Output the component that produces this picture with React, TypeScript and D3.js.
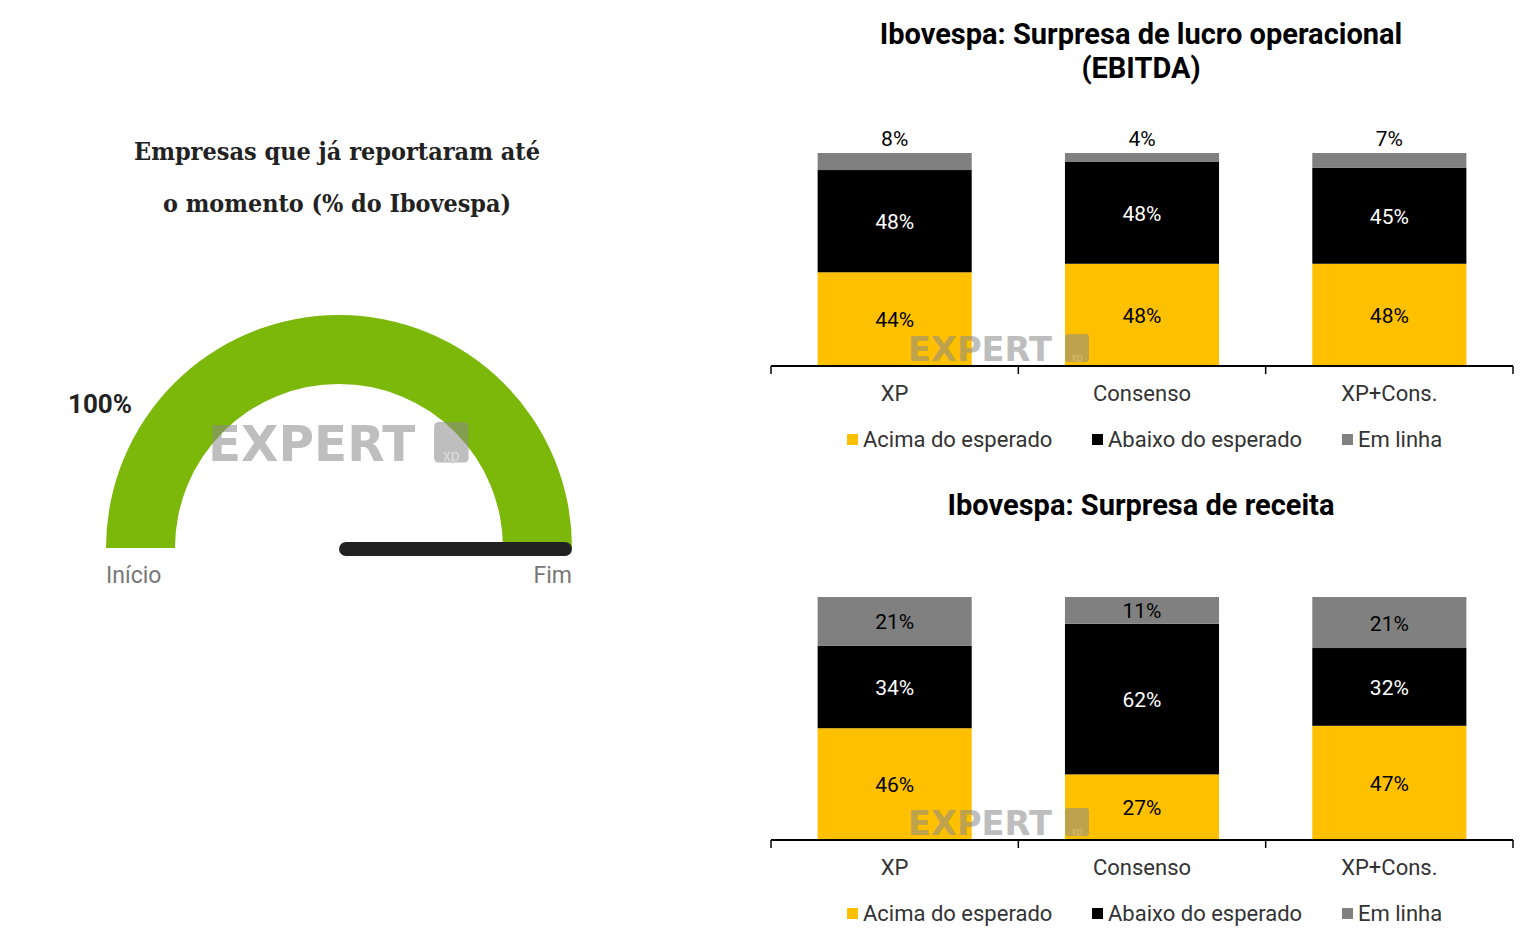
import React from "react";
import * as d3 from "d3";

const categories = ["XP", "Consenso", "XP+Cons."];
const seriesNames = ["Acima do esperado", "Abaixo do esperado", "Em linha"];
const seriesColors = ["#FFC000", "#000000", "#808080"];
const labelColors = ["#000000", "#ffffff", "#000000"];

const ebitdaAcima = [44, 48, 48];
const ebitdaAbaixo = [48, 48, 45];
const ebitdaEmLinha = [8, 4, 7];

const receitaAcima = [46, 27, 47];
const receitaAbaixo = [34, 62, 32];
const receitaEmLinha = [21, 11, 21];

const gaugeValue = 100;
const gaugeTitle = ["Empresas que já reportaram até", "o momento (% do Ibovespa)"];

const FONT = "Roboto, 'Noto Sans', sans-serif";

function Watermark({ x, y, s = 1 }: { x: number; y: number; s?: number }) {
  return (
    <g opacity={0.55} transform={`translate(${x},${y}) scale(${s})`}>
      <text
        x={0}
        y={0}
        fontFamily="'DejaVu Sans', sans-serif"
        fontWeight={700}
        fontSize={34}
        fill="#8a8a8a"
        textLength={144}
        lengthAdjust="spacingAndGlyphs"
      >
        EXPERT
      </text>
      <rect x={157} y={-27} width={24} height={28} rx={3} fill="#8a8a8a" />
      <text x={169} y={0} fontFamily={FONT} fontSize={11} fill="#bbb" textAnchor="middle">
        xp
      </text>
    </g>
  );
}

function StackedChart({
  title,
  top,
  axisY,
  values,
  grayOutside,
}: {
  title: string[];
  top: number;
  axisY: number;
  values: number[][];
  grayOutside: boolean;
}) {
  const x = d3
    .scaleBand<string>()
    .domain(categories)
    .range([771, 1513])
    .paddingInner(0.377)
    .paddingOuter(0.1885);
  const y = d3.scaleLinear().domain([0, 100]).range([axisY, top]).clamp(true);

  const rows = categories.map((c, i) => {
    const o: any = { cat: c };
    seriesNames.forEach((s, k) => (o[s] = values[k][i]));
    return o;
  });
  const stack = d3.stack<any>().keys(seriesNames)(rows);
  const step = x.step();
  const x0 = 771;

  return (
    <g>
      {title.map((t, i) => (
        <text
          key={i}
          x={1141}
          y={title.length > 1 ? 44 + i * 34 : top - 82}
          textAnchor="middle"
          fontFamily={FONT}
          fontWeight={700}
          fontSize={29}
          fill="#000"
        >
          {t}
        </text>
      ))}
      {stack.map((layer, k) => (
        <g key={k}>
          {layer.map((d, i) => {
            const bx = x(categories[i])!;
            const y1 = y(d[1]);
            const y0 = y(d[0]);
            return <rect key={i} x={bx} y={y1} width={x.bandwidth()} height={y0 - y1} fill={seriesColors[k]} />;
          })}
        </g>
      ))}
      {stack.map((layer, k) =>
        layer.map((d, i) => {
          const bx = x(categories[i])! + x.bandwidth() / 2;
          const y1 = y(d[1]);
          const y0 = y(d[0]);
          const outside = grayOutside && k === 2;
          const ly = outside ? y1 - 7 : (y0 + y1) / 2 + 8;
          return (
            <text
              key={`${k}-${i}`}
              x={bx}
              y={ly}
              textAnchor="middle"
              fontFamily={FONT}
              fontSize={21}
              fill={outside ? "#000" : labelColors[k]}
            >
              {values[k][i]}%
            </text>
          );
        })
      )}
      <Watermark x={908} y={axisY - 5} />
      <line x1={x0} x2={1513} y1={axisY} y2={axisY} stroke="#000" strokeWidth={2} />
      {d3.range(categories.length + 1).map((i) => (
        <line
          key={i}
          x1={x0 + i * step}
          x2={x0 + i * step}
          y1={axisY}
          y2={axisY + 8}
          stroke="#000"
          strokeWidth={1.5}
        />
      ))}
      {categories.map((c) => (
        <text
          key={c}
          x={x(c)! + x.bandwidth() / 2}
          y={axisY + 35}
          textAnchor="middle"
          fontFamily={FONT}
          fontSize={22}
          fill="#333"
        >
          {c}
        </text>
      ))}
      {(() => {
        const items = [847, 1092, 1342];
        return seriesNames.map((s, k) => (
          <g key={s}>
            <rect x={items[k]} y={axisY + 68} width={11} height={11} fill={seriesColors[k]} />
            <text x={items[k] + 16} y={axisY + 81} fontFamily={FONT} fontSize={22} fill="#333">
              {s}
            </text>
          </g>
        ));
      })()}
    </g>
  );
}

function Gauge() {
  const cx = 339;
  const cy = 548;
  const arc = d3
    .arc<any>()
    .innerRadius(164)
    .outerRadius(233)
    .startAngle(-Math.PI / 2)
    .endAngle(-Math.PI / 2 + (Math.PI * gaugeValue) / 100);
  const angle = Math.PI * (gaugeValue / 100);
  const nx = cx - Math.cos(angle) * 226;
  const ny = cy - Math.sin(angle) * 226;
  return (
    <g>
      {gaugeTitle.map((t, i) => (
        <text
          key={i}
          x={337}
          y={160 + i * 52}
          textAnchor="middle"
          fontFamily="'DejaVu Serif', serif"
          fontWeight={700}
          fontSize={24}
          fill="#222"
          textLength={i === 0 ? 406 : 348}
          lengthAdjust="spacingAndGlyphs"
        >
          {t}
        </text>
      ))}
      <path d={arc({}) as string} transform={`translate(${cx},${cy})`} fill="#7CB80A" />
      <Watermark x={208} y={461} s={1.44} />
      <line x1={cx + 7} y1={cy + 1} x2={nx} y2={ny + 1} stroke="#222" strokeWidth={14} strokeLinecap="round" />
      <text x={68} y={413} fontFamily={FONT} fontWeight={700} fontSize={26} fill="#222">
        {gaugeValue}%
      </text>
      <text x={106} y={583} fontFamily={FONT} fontSize={23} fill="#777">
        Início
      </text>
      <text x={572} y={583} textAnchor="end" fontFamily={FONT} fontSize={23} fill="#777">
        Fim
      </text>
    </g>
  );
}

export default function App() {
  return (
    <svg
      width={1536}
      height={947}
      viewBox="0 0 1536 947"
      style={{ position: "absolute", left: 0, top: 0, background: "#fff" }}
    >
      <rect width={1536} height={947} fill="#fff" />
      <Gauge />
      <StackedChart
        title={["Ibovespa: Surpresa de lucro operacional", "(EBITDA)"]}
        top={153}
        axisY={366}
        values={[ebitdaAcima, ebitdaAbaixo, ebitdaEmLinha]}
        grayOutside={true}
      />
      <StackedChart
        title={["Ibovespa: Surpresa de receita"]}
        top={597}
        axisY={840}
        values={[receitaAcima, receitaAbaixo, receitaEmLinha]}
        grayOutside={false}
      />
    </svg>
  );
}
